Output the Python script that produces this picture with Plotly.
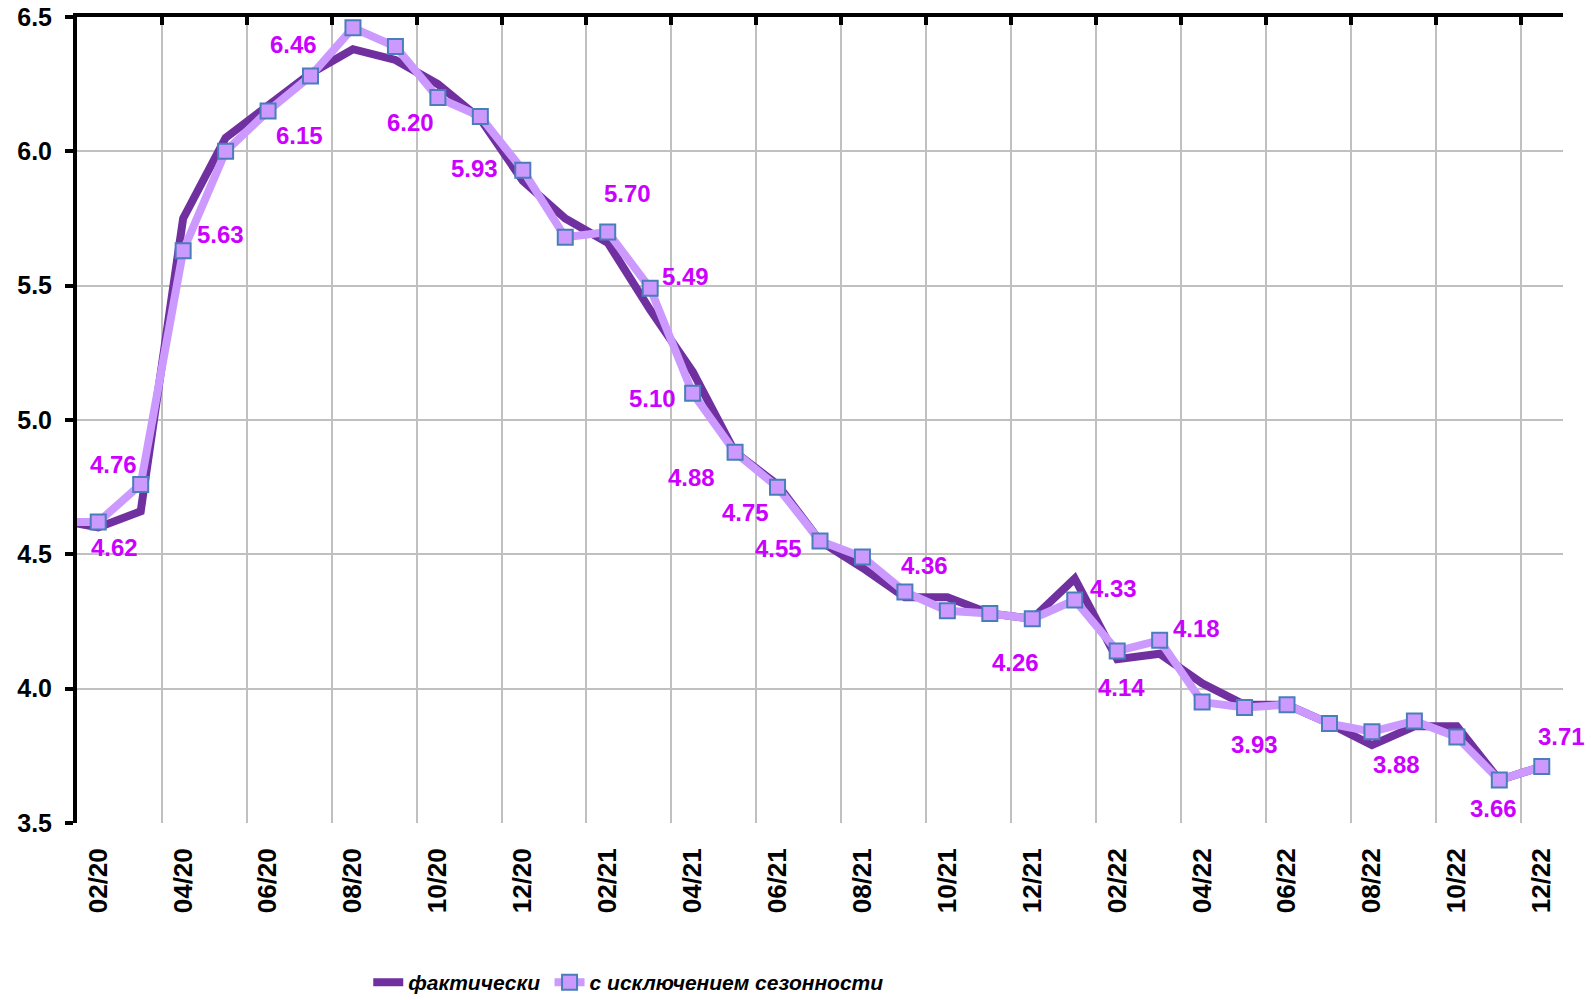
import plotly.graph_objects as go

months = ["01/20", "02/20", "03/20", "04/20", "05/20", "06/20", "07/20", "08/20", "09/20", "10/20", "11/20", "12/20",
          "01/21", "02/21", "03/21", "04/21", "05/21", "06/21", "07/21", "08/21", "09/21", "10/21", "11/21", "12/21",
          "01/22", "02/22", "03/22", "04/22", "05/22", "06/22", "07/22", "08/22", "09/22", "10/22", "11/22", "12/22"]

actual = [4.63, 4.60, 4.66, 5.75, 6.05, 6.17, 6.29, 6.38, 6.34, 6.25, 6.12, 5.89,
          5.75, 5.66, 5.41, 5.18, 4.88, 4.76, 4.55, 4.45, 4.34, 4.34, 4.28, 4.26,
          4.41, 4.11, 4.13, 4.02, 3.94, 3.94, 3.87, 3.79, 3.86, 3.86, 3.66, 3.71]

seas_adj = [4.62, 4.62, 4.76, 5.63, 6.00, 6.15, 6.28, 6.46, 6.39, 6.20, 6.13, 5.93,
            5.68, 5.70, 5.49, 5.10, 4.88, 4.75, 4.55, 4.49, 4.36, 4.29, 4.28, 4.26,
            4.33, 4.14, 4.18, 3.95, 3.93, 3.94, 3.87, 3.84, 3.88, 3.82, 3.66, 3.71]

series_names = ["фактически", "с исключением сезонности"]

# months whose seasonally-adjusted value is labelled
label_months = ["02/20", "03/20", "04/20", "06/20", "08/20", "10/20", "12/20", "02/21", "03/21", "04/21",
                "05/21", "06/21", "07/21", "09/21", "12/21", "01/22", "02/22", "03/22", "05/22", "09/22",
                "11/22", "12/22"]
# label offsets in pixels (dx, dy; dy positive = downwards)
label_offsets = [(16, 25), (-27, -20), (37, -16), (31, 24), (-59, 17), (-27, 25), (-48, -2), (20, -38),
                 (35, -12), (-40, 5), (-44, 25), (-32, 25), (-42, 8), (20, -26), (-17, 44), (39, -12),
                 (4, 36), (37, -12), (10, 37), (-18, 44), (-6, 28), (20, -30)]

y_ticks = [3.5, 4.0, 4.5, 5.0, 5.5, 6.0, 6.5]
tick_months = months[1::2]
grid_positions = [i + 0.5 for i in range(2, 35, 2)]

DARK = "#7030A0"
LIGHT = "#CC99FF"
LABEL = "#CC00FF"
BASE_FONT = "Liberation Sans, Arial, sans-serif"
LEGEND_FONT = dict(family=BASE_FONT, size=21, color="black", weight="bold", style="italic")

fig = go.Figure()
fig.add_trace(go.Scatter(
    x=months, y=actual, name=series_names[0], mode="lines",
    line=dict(color=DARK, width=8), legend="legend",
))
fig.add_trace(go.Scatter(
    x=months, y=seas_adj, name=series_names[1], mode="lines+markers",
    line=dict(color=LIGHT, width=8), legend="legend2",
    marker=dict(symbol="square", size=15, color=LIGHT, line=dict(color="#4A7EBB", width=2)),
))
# empty helper trace so the top (boundary/grid) axis gets drawn
fig.add_trace(go.Scatter(x=[], y=[], xaxis="x2", yaxis="y", showlegend=False, hoverinfo="skip"))

for m, (dx, dy) in zip(label_months, label_offsets):
    v = seas_adj[months.index(m)]
    fig.add_annotation(
        x=m, y=v, xref="x", yref="y", text=f"{v:.2f}", showarrow=False,
        xshift=dx, yshift=-dy,
        font=dict(family=BASE_FONT, size=24, color=LABEL, weight="bold"),
    )

fig.update_layout(
    template="none",
    width=1591, height=1000,
    margin=dict(l=77, r=28, t=17, b=177, autoexpand=False),
    plot_bgcolor="white", paper_bgcolor="white",
    showlegend=True,
    legend=dict(
        orientation="h", x=0.196, xanchor="left", y=-0.1725, yanchor="top",
        font=LEGEND_FONT, itemwidth=30, bgcolor="rgba(0,0,0,0)",
    ),
    legend2=dict(
        orientation="h", x=0.318, xanchor="left", y=-0.1725, yanchor="top",
        font=LEGEND_FONT, itemwidth=30, bgcolor="rgba(0,0,0,0)",
    ),
    xaxis=dict(
        type="category", categoryorder="array", categoryarray=months, automargin=False,
        range=[0.5, 35.5], showgrid=False, zeroline=False, showline=False,
        tickmode="array", tickvals=tick_months, ticktext=tick_months,
        tickangle=-90, ticks="", ticklabelstandoff=19,
        tickfont=dict(family=BASE_FONT, size=26, color="black", weight="bold"),
    ),
    xaxis2=dict(
        overlaying="x", side="top", anchor="y", range=[0.5, 35.5], showgrid=True, automargin=False,
        gridcolor="#C0C0C0", gridwidth=1.5, tickmode="array", tickvals=grid_positions,
        showticklabels=False, ticks="inside", ticklen=8, tickwidth=4, tickcolor="black",
        showline=True, linecolor="black", linewidth=4, zeroline=False,
    ),
    yaxis=dict(
        range=[3.5, 6.5], tickmode="array", tickvals=y_ticks, automargin=False,
        tickformat=".1f", showgrid=True, gridcolor="#C0C0C0", gridwidth=1.5,
        showline=True, linecolor="black", linewidth=4, zeroline=False,
        ticks="outside", ticklen=8, tickwidth=4, tickcolor="black", ticklabelstandoff=8,
        ticklabeloverflow="allow",
        tickfont=dict(family=BASE_FONT, size=25, color="black", weight="bold"),
    ),
)

fig.write_html("out.html", config={"displayModeBar": False},
               post_script="document.body.style.margin='0';")
